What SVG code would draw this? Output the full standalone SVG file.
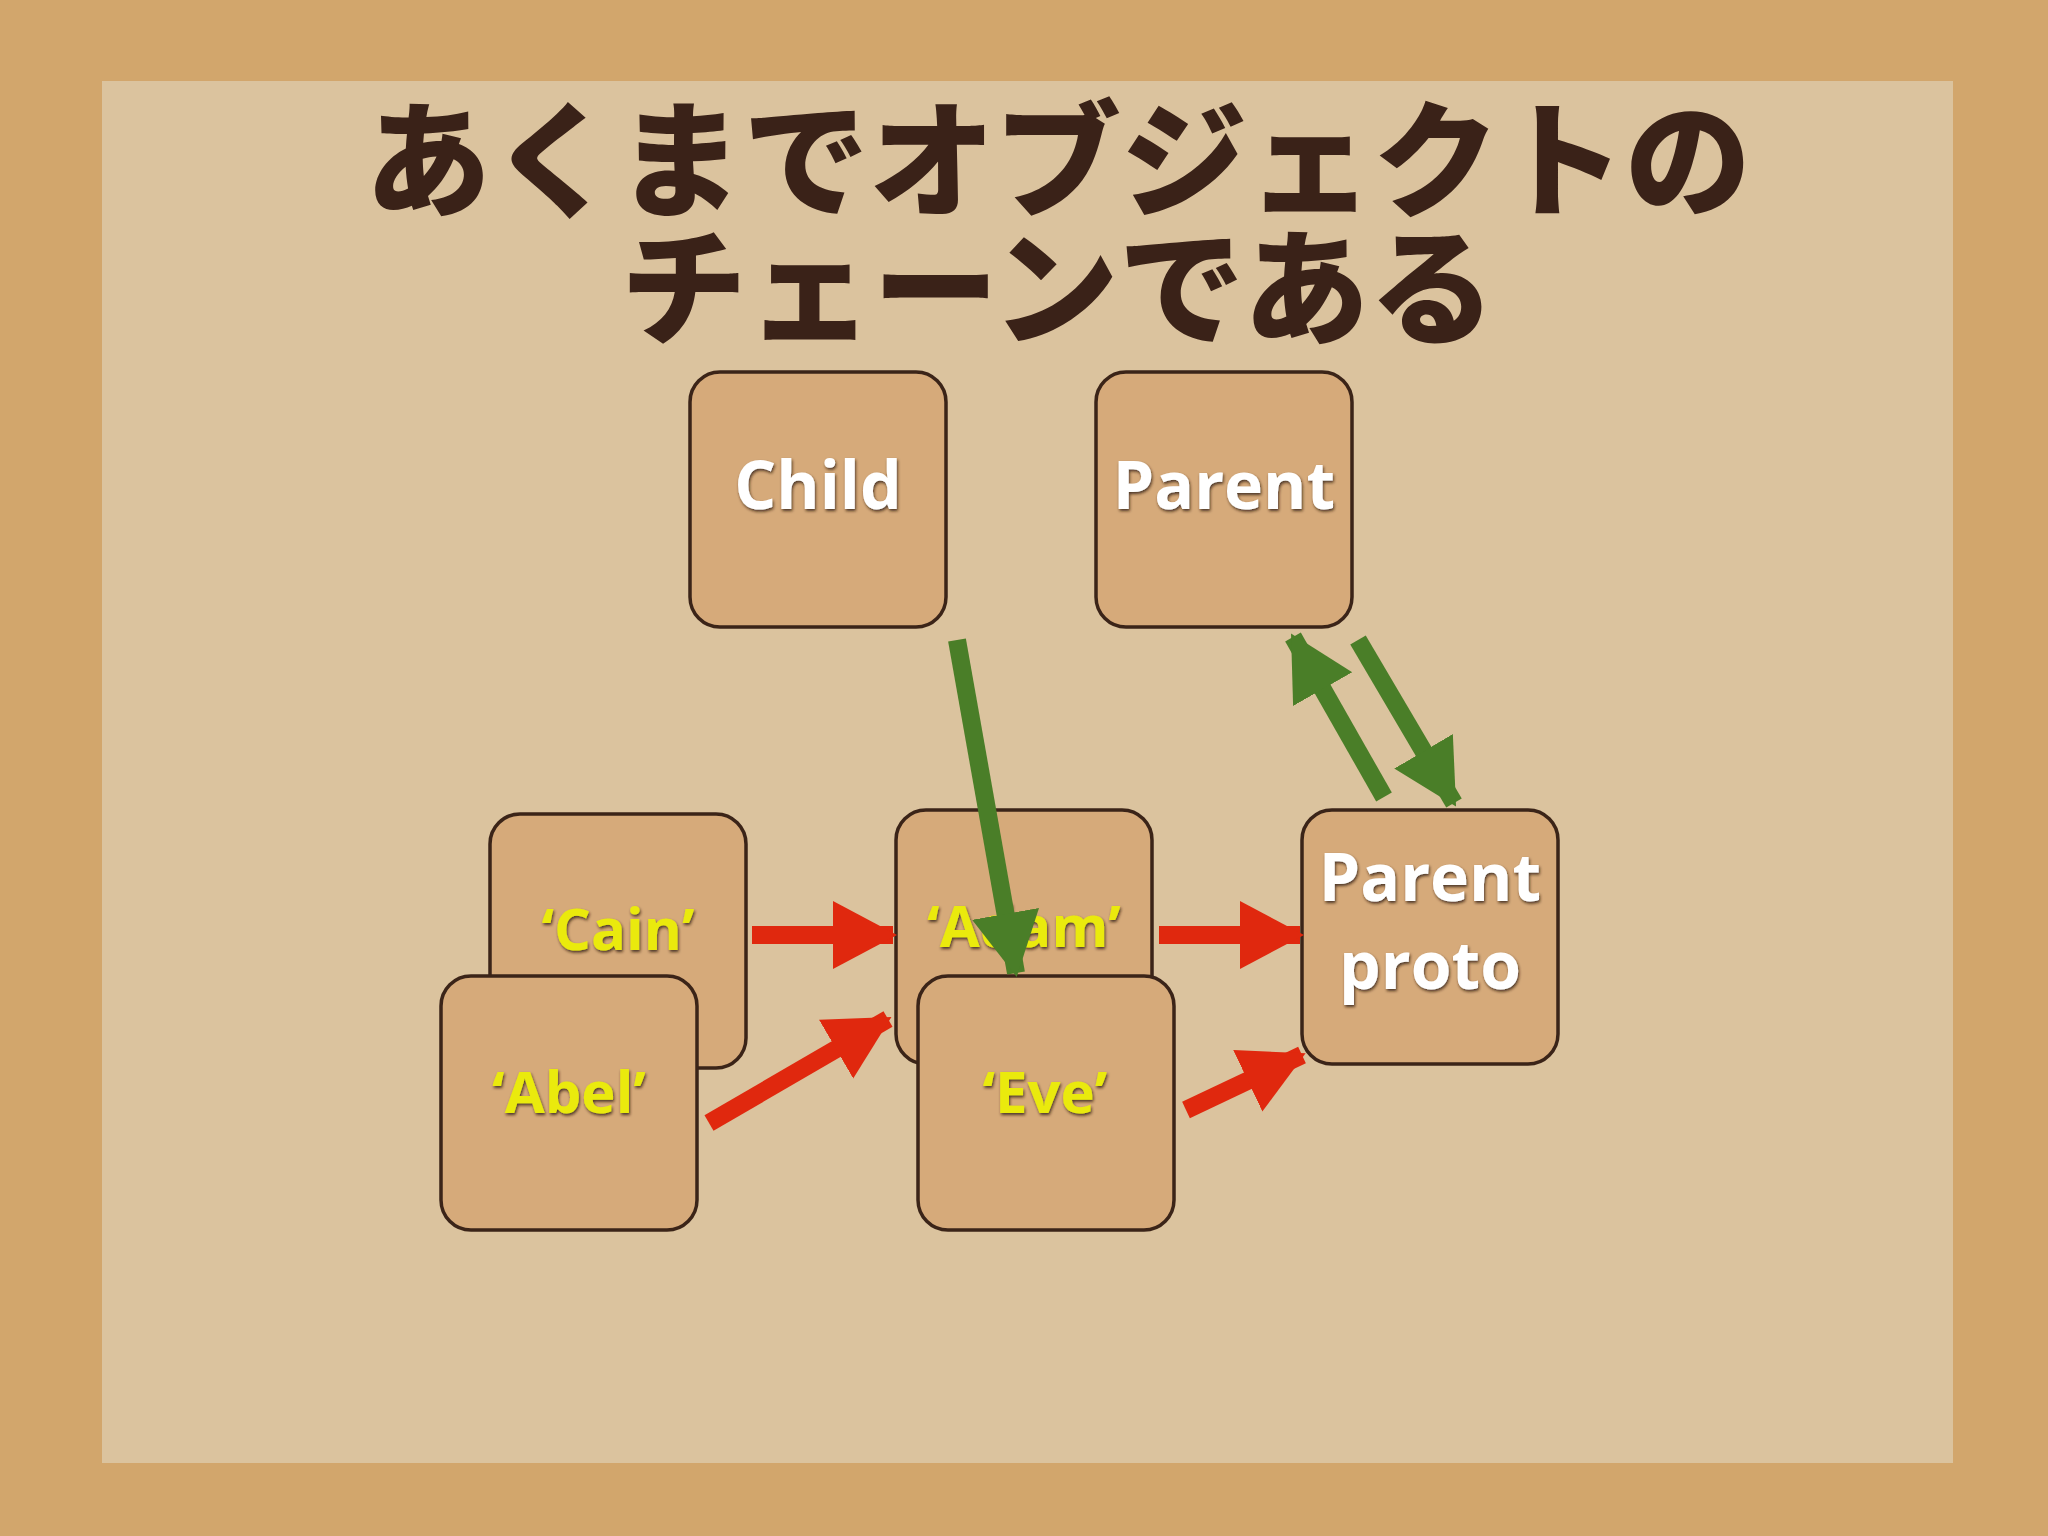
<svg xmlns="http://www.w3.org/2000/svg" width="2048" height="1536" viewBox="0 0 2048 1536">
<defs>
<style>
.node rect{fill:#d6aa7a;stroke:#3b2418;stroke-width:3.5}
.lbl{font-family:"Open Sans","Noto Sans",sans-serif;font-weight:bold;text-anchor:middle;fill:#fff;filter:url(#sh)}
.y{fill:#eaea10}
.title{font-family:"Noto Sans CJK JP",sans-serif;font-weight:900;font-size:126px;fill:#3a2218;text-anchor:middle}
.red{stroke:#e0280e;stroke-width:18;fill:none;marker-end:url(#ar)}
.grn{stroke:#4a7e28;stroke-width:18;fill:none;marker-end:url(#ag)}
</style>
<filter id="sh" x="-20%" y="-20%" width="140%" height="140%"><feDropShadow dx="1" dy="2" stdDeviation="1.5" flood-color="#2a1808" flood-opacity="0.8"/></filter>
<marker id="ar" markerUnits="userSpaceOnUse" markerWidth="70" markerHeight="80" refX="60" refY="38" orient="auto"><path d="M0,4 L64,38 L0,72 Z" fill="#e0280e"/></marker>
<marker id="ag" markerUnits="userSpaceOnUse" markerWidth="70" markerHeight="80" refX="60" refY="38" orient="auto"><path d="M0,4 L64,38 L0,72 Z" fill="#4a7e28"/></marker>
</defs>
<rect width="2048" height="1536" fill="#d2a66c"/>
<rect x="102" y="81" width="1851" height="1382" fill="#dbc39e"/>
<text class="title" x="1058" y="207">あくまでオブジェクトの</text>
<text class="title" x="1058" y="335">チェーンである</text>
<g id="child" class="node"><rect x="690" y="372" width="256" height="255" rx="30"/><text class="lbl" x="818" y="509" font-size="66">Child</text></g>
<g id="parent" class="node"><rect x="1096" y="372" width="256" height="255" rx="30"/><text class="lbl" x="1224" y="509" font-size="66">Parent</text></g>
<g id="cain" class="node"><rect x="490" y="814" width="256" height="254" rx="30"/><text class="lbl y" x="618" y="950" font-size="58">‘Cain’</text></g>
<g id="adam" class="node"><rect x="896" y="810" width="256" height="254" rx="30"/><text class="lbl y" x="1024" y="947" font-size="58">‘Adam’</text></g>
<g id="abel" class="node"><rect x="441" y="976" width="256" height="254" rx="30"/><text class="lbl y" x="569" y="1113" font-size="58">‘Abel’</text></g>
<g id="eve" class="node"><rect x="918" y="976" width="256" height="254" rx="30"/><text class="lbl y" x="1045" y="1113" font-size="58">‘Eve’</text></g>
<g id="proto" class="node"><rect x="1302" y="810" width="256" height="254" rx="30"/><text class="lbl" x="1430" y="901" font-size="66">Parent</text><text class="lbl" x="1430" y="989" font-size="66">proto</text></g>
<g id="connectors">
<line class="red" x1="752" y1="935" x2="893" y2="935"/>
<line class="red" x1="709" y1="1123" x2="888" y2="1019"/>
<line class="red" x1="1159" y1="935" x2="1300" y2="935"/>
<line class="red" x1="1186" y1="1110" x2="1302" y2="1055"/>
<line class="grn" x1="957" y1="640" x2="1016" y2="973"/>
<line class="grn" x1="1384" y1="797" x2="1293" y2="637"/>
<line class="grn" x1="1358" y1="640" x2="1454" y2="803"/>
</g>
</svg>
